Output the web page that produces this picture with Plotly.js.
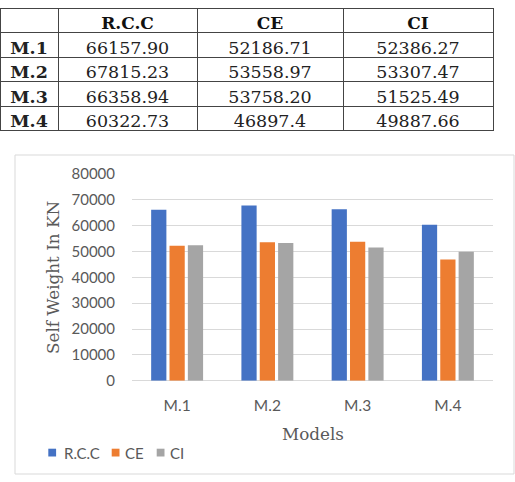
<!DOCTYPE html>
<html>
<head>
<meta charset="utf-8">
<script src="https://cdn.plot.ly/plotly-3.0.1.min.js"></script>
<style>html,body{margin:0;padding:0;background:#fff;}#chart{width:515px;height:482px;}</style>
</head>
<body>
<div id="chart"></div>
<script>
// ---- data ----
const models = ["M.1", "M.2", "M.3", "M.4"];
const seriesNames = ["R.C.C", "CE", "CI"];
const rccText = ["66157.90", "67815.23", "66358.94", "60322.73"];
const ceText = ["52186.71", "53558.97", "53758.20", "46897.4"];
const ciText = ["52386.27", "53307.47", "51525.49", "49887.66"];
const xTitle = "Models";
const yTitle = "Self Weight In KN";

// ---- styles ----
const colors = ["#4472C4", "#ED7D31", "#A5A5A5"];
const W = 515, H = 482;
const px = v => v / W;
const py = v => 1 - v / H;
const serif = "DejaVu Serif";
const sans = "Lato";
const grey = "#595959";

const seriesText = [rccText, ceText, ciText];
const seriesVals = seriesText.map(a => a.map(Number));

const bars = seriesNames.map((name, i) => ({
  type: "bar",
  name: name,
  x: models,
  y: seriesVals[i],
  marker: { color: colors[i], line: { width: 0 } },
  showlegend: false,
  hoverinfo: "x+y+name"
}));

const table = {
  type: "table",
  domain: { x: [0, px(493)], y: [py(150), py(8)] },
  columnwidth: [58, 139, 146, 150],
  header: {
    values: [""].concat(seriesNames),
    align: "center",
    height: 24.5,
    line: { color: "#444", width: 1 },
    fill: { color: "#fff" },
    font: { family: serif, size: 17, color: "#111", weight: "bold" }
  },
  cells: {
    values: [models, rccText, ceText, ciText],
    align: "center",
    height: 24.5,
    line: { color: "#444", width: 1 },
    fill: { color: "#fff" },
    font: { family: serif, size: 17.5, color: "#222", weight: ["bold", "normal", "normal", "normal"] }
  }
};

// custom legend entries (squares + labels)
const legX = [48.3, 111.7, 156.7];
const legTextX = [61.5, 123, 168];
const shapes = [{
  type: "rect", xref: "paper", yref: "paper",
  x0: px(15), x1: px(514), y0: py(474), y1: py(155),
  line: { color: "#D9D9D9", width: 1 }, fillcolor: "rgba(0,0,0,0)"
}];
const annotations = [
  { text: yTitle, xref: "paper", yref: "paper", x: px(53), y: py(278), textangle: -90,
    xanchor: "center", yanchor: "middle",
    showarrow: false, font: { family: serif, size: 16.8, color: grey } },
  { text: xTitle, xref: "paper", yref: "paper", x: px(312.5), y: py(434),
    xanchor: "center", yanchor: "middle",
    showarrow: false, font: { family: serif, size: 16.8, color: grey } }
];
seriesNames.forEach((n, i) => {
  shapes.push({ type: "rect", xref: "paper", yref: "paper",
    x0: px(legX[i]), x1: px(legX[i] + 7.8), y0: py(456.5), y1: py(448.7),
    line: { width: 0 }, fillcolor: colors[i] });
  annotations.push({ text: n, xref: "paper", yref: "paper", x: px(legTextX[i]), y: py(452.5),
    xanchor: "left", yanchor: "middle", showarrow: false,
    font: { family: sans, size: 15, color: grey } });
});

const layout = {
  width: W, height: H,
  margin: { l: 0, r: 0, t: 0, b: 0 },
  paper_bgcolor: "#fff", plot_bgcolor: "#fff",
  barmode: "group", bargap: 0.39, bargroupgap: 0.17,
  showlegend: false,
  xaxis: {
    domain: [px(132), px(493)],
    anchor: "y",
    showgrid: false, showline: false, zeroline: false,
    ticks: "", ticklabelstandoff: 14,
    tickfont: { family: sans, size: 15.5, color: grey }
  },
  yaxis: {
    domain: [py(380.7), py(174)],
    anchor: "x",
    range: [0, 80000], dtick: 10000, tick0: 0, tickformat: "d",
    showgrid: true, gridcolor: "#D9D9D9", gridwidth: 1,
    zeroline: true, zerolinecolor: "#D9D9D9", zerolinewidth: 1,
    showline: false, ticks: "", ticklabelstandoff: 16,
    tickfont: { family: sans, size: 15, color: grey }
  },
  shapes: shapes,
  annotations: annotations
};

Plotly.newPlot("chart", bars.concat([table]), layout, { displayModeBar: false, staticPlot: true });
</script>
</body>
</html>
